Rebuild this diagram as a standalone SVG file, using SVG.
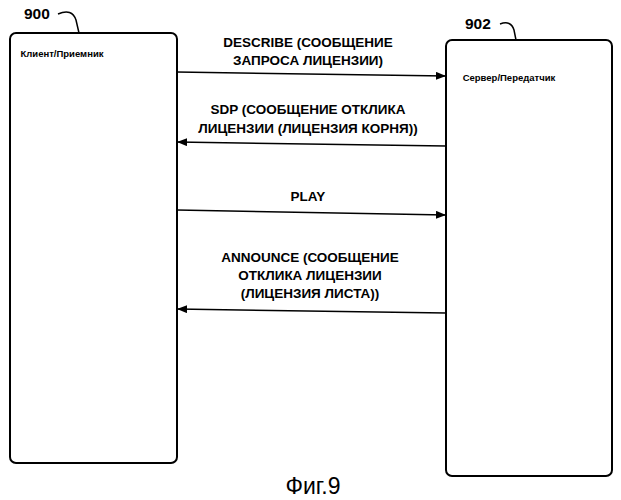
<svg xmlns="http://www.w3.org/2000/svg" width="621" height="500" viewBox="0 0 621 500">
<defs>
<style>
.box{fill:#fff;stroke:#000;stroke-width:2}
.t{font-family:"Liberation Sans",Arial,sans-serif;font-weight:bold;fill:#000}
.lbl{font-size:13.5px;text-anchor:middle}
.c{stroke:#000;stroke-width:1.5;fill:none}
</style>
<marker id="ah" markerWidth="10" markerHeight="8" refX="10" refY="4" orient="auto" markerUnits="userSpaceOnUse"><path d="M0,0 L10,4 L0,8 z" fill="#000"/></marker>
</defs>
<rect width="621" height="500" fill="#fff"/>
<g id="n900">
<rect class="box" x="10" y="33" width="167" height="430" rx="6"/>
<text class="t" x="62" y="57" font-size="9.5" text-anchor="middle">Клиент/Приемник</text>
<text class="t" x="24" y="19" font-size="15.5">900</text>
<path class="c" d="M58,14 Q72,8 76,20 L79,33"/>
</g>
<g id="n902">
<rect class="box" x="446" y="40" width="166" height="436" rx="6"/>
<text class="t" x="509" y="81" font-size="9.5" text-anchor="middle">Сервер/Передатчик</text>
<text class="t" x="465" y="29" font-size="15.5">902</text>
<path class="c" d="M500,24 Q511,20 514,30 L516,40"/>
</g>
<g id="connectors">
<line class="c" x1="177" y1="72" x2="446" y2="76" marker-end="url(#ah)"/>
<line class="c" x1="446" y1="146" x2="177" y2="142" marker-end="url(#ah)"/>
<line class="c" x1="177" y1="210" x2="446" y2="215" marker-end="url(#ah)"/>
<line class="c" x1="446" y1="313" x2="177" y2="309" marker-end="url(#ah)"/>
</g>
<g id="labels">
<text class="t lbl" x="308" y="47">DESCRIBE (СООБЩЕНИЕ</text>
<text class="t lbl" x="308" y="65">ЗАПРОСА ЛИЦЕНЗИИ)</text>
<text class="t lbl" x="308" y="114">SDP (СООБЩЕНИЕ ОТКЛИКА</text>
<text class="t lbl" x="308" y="133">ЛИЦЕНЗИИ (ЛИЦЕНЗИЯ КОРНЯ))</text>
<text class="t lbl" x="308" y="201">PLAY</text>
<text class="t lbl" x="310" y="262">ANNOUNCE (СООБЩЕНИЕ</text>
<text class="t lbl" x="310" y="280">ОТКЛИКА ЛИЦЕНЗИИ</text>
<text class="t lbl" x="310" y="298">(ЛИЦЕНЗИЯ ЛИСТА))</text>
</g>
<text x="313" y="494" font-family="Liberation Sans,Arial,sans-serif" font-size="23" text-anchor="middle">Фиг.9</text>
</svg>
